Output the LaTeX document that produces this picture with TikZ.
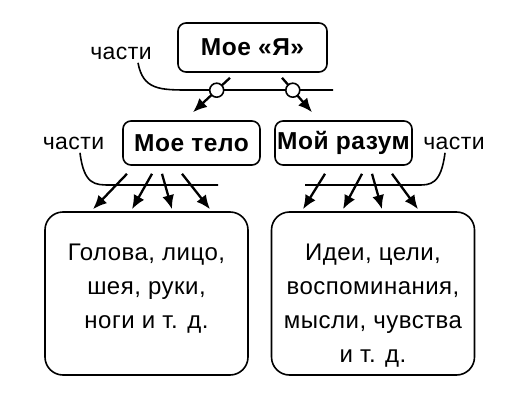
\documentclass[tikz,border=0pt]{standalone}
\usepackage{fontspec}
\setmainfont{Liberation Sans}[LetterSpace=2]
\usetikzlibrary{arrows.meta}
\tikzset{
  box/.style={draw, line width=1.6pt, rounded corners=8pt, inner sep=0pt,
    font=\bfseries\fontsize{24.5}{28}\selectfont},
  bigbox/.style={draw, line width=1.6pt, rounded corners=18pt,
    minimum width=203pt, minimum height=163pt},
  txt/.style={font=\fontsize{24}{34}\selectfont, align=center},
  lbl/.style={font=\fontsize{23}{26}\selectfont},
  arr/.style={line width=2.3pt, -{Latex[length=14pt,width=12pt]}},
  part/.style={line width=1.6pt},
  dot/.style={circle, draw, fill=white, line width=1.6pt, inner sep=0pt, minimum size=14pt}
}

\begin{document}
\begin{tikzpicture}[x=1pt,y=-1pt]
    \useasboundingbox (0,0) rectangle (524,401);
    % boxes
    \node[box, minimum width=149pt, minimum height=49pt] (me) at (252.5,47.5) {Мое «Я»};
    \node[box, minimum width=137pt, minimum height=44pt] (body) at (191.5,143) {Мое тело};
    \node[box, minimum width=137pt, minimum height=44pt] (mind) at (343.5,143) {Мой разум};
    \node[bigbox] (lbox) at (146.5,293.5) {};
    \node[bigbox] (rbox) at (373,293.5) {};
    \node[txt, anchor=north] (ltext) at ([yshift=-29pt]lbox.north) {Голова, лицо,\\шея, руки,\\ноги и т. д.};
    \node[txt, anchor=north] (rtext) at ([yshift=-29pt]rbox.north) {Идеи, цели,\\воспоминания,\\мысли, чувства\\и т. д.};
    % parts
    \node[lbl] (p1) at (121,53) {части};
    \node[lbl] (p2) at (73.5,143) {части};
    \node[lbl] (p3) at (454,143) {части};
    \coordinate (l1) at (333,90);
    \coordinate (l2) at (218,185);
    \coordinate (l3) at (305,185);
    \draw[part] ([xshift=17pt]p1.south) .. controls (143,90) and (160,90) .. (190,90) -- (l1);
    \draw[part] ([xshift=6.5pt]p2.south) .. controls (84,185) and (95,185) .. (110,185) -- (l2);
    \draw[part] ([xshift=-9pt]p3.south) .. controls (441,185) and (430,185) .. (418,185) -- (l3);
    % arrows
    \draw[arr] ([xshift=-22.5pt,yshift=-5pt]me.south) -- node[pos=.36, dot]{} ([xshift=1.5pt,yshift=8pt]body.north);
    \draw[arr] ([xshift=29.5pt,yshift=-5pt]me.south) -- node[pos=.36, dot]{} ([xshift=-31.5pt,yshift=8pt]mind.north);
    \foreach \s/\e in {-64.5/-53.5, -39.5/-14.5, -29.5/25.5, -9.5/63.5}
      \draw[arr] ([xshift=\s pt,yshift=-8pt]body.south) -- ([xshift=\e pt,yshift=2pt]lbox.north);
    \foreach \s/\e in {-18.5/-70, 18.5/-30, 28.5/9, 48.5/45}
      \draw[arr] ([xshift=\s pt,yshift=-8pt]mind.south) -- ([xshift=\e pt,yshift=2pt]rbox.north);
\end{tikzpicture}
\end{document}
